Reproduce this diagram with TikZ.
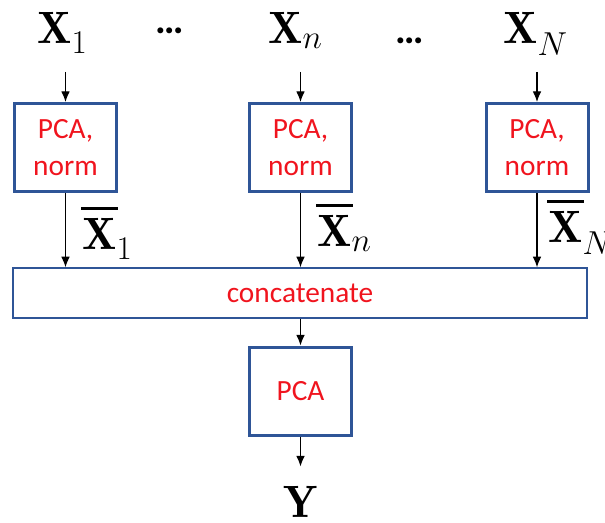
\documentclass[tikz,border=0pt]{standalone}
\usepackage{fontspec}
\newfontfamily\calibri{Carlito}
\usepackage{tikz}
\usetikzlibrary{arrows.meta,calc}

\definecolor{boxblue}{RGB}{47,85,151}
\definecolor{txtred}{RGB}{240,20,30}
% bold X with a wide bar over it
\newcommand{\barX}{\mbox{\ooalign{$\mathbf{X}$\cr\hidewidth\rule[0.88em]{0.8em}{0.06em}\hidewidth\cr}}}

\begin{document}
\begin{tikzpicture}[x=0.75pt,y=0.75pt,yscale=-1,xscale=1,
  blk/.style={draw=boxblue,line width=2.25pt,minimum width=76.5pt,minimum height=66pt,inner sep=0pt,align=center,text=txtred,font=\calibri\fontsize{22}{27.75}\selectfont},
  catblk/.style={draw=boxblue,line width=1pt,minimum width=430.5pt,minimum height=37.5pt,inner sep=0pt,text=txtred,font=\calibri\fontsize{22}{27.75}\selectfont},
  sym/.style={inner sep=0pt,font=\fontsize{34}{40}\selectfont},
  dotsym/.style={inner sep=0pt,font=\calibri\bfseries\fontsize{30}{36}\selectfont},
  arr/.style={-{Latex[length=8pt,width=6.5pt]},line width=0.9pt}]
\useasboundingbox (0,0) rectangle (605,523);

% Text Node
\node[sym,anchor=base west] (x1) at (37,44) {$\mathbf{X}_1$};
% Text Node
\node[sym,anchor=base west] (xn) at (268,44) {$\mathbf{X}_n$};
% Text Node
\node[sym,anchor=base west] (xN) at (503,44) {$\mathbf{X}_N$};
% Text Node
\node[dotsym,anchor=base] (dots1) at (170,34) {\ldots};
% Text Node
\node[dotsym,anchor=base] (dots2) at (410,44) {\ldots};

%Blocks
\node[blk] (b1) at (65.5,147.5) {PCA,\\norm};
\node[blk] (bn) at (300.5,147.5) {PCA,\\norm};
\node[blk] (bN) at (537,147.5) {PCA,\\norm};
\node[catblk] (cat) at (300,293) {concatenate};
\node[blk] (pca) at (300.5,391) {PCA};

% Text Node
\node[sym,anchor=base] (y) at (301,517) {$\mathbf{Y}$};

%Straight Lines
\draw[arr] (b1.north) ++(0,-30) -- (b1.north);
\draw[arr] (bn.north) ++(0,-30) -- (bn.north);
\draw[arr] (bN.north) ++(0,-30) -- (bN.north);
%Straight Lines
\draw[arr] (b1.south) -- (b1.south |- cat.north);
\draw[arr] (bn.south) -- (bn.south |- cat.north);
\draw[arr] (bN.south) -- (bN.south |- cat.north);
%Straight Lines
\draw[arr] (pca.north |- cat.south) -- (pca.north);
\draw[arr] (pca.south) -- ++(0,30);

% Text Node
\node[sym,anchor=base west] (xb1) at (82,250) {$\barX_1$};
% Text Node
\node[sym,anchor=base west] (xbn) at (317,247) {$\barX_n$};
% Text Node
\node[sym,anchor=base west] (xbN) at (548,243) {$\barX_N$};

\end{tikzpicture}
\end{document}
